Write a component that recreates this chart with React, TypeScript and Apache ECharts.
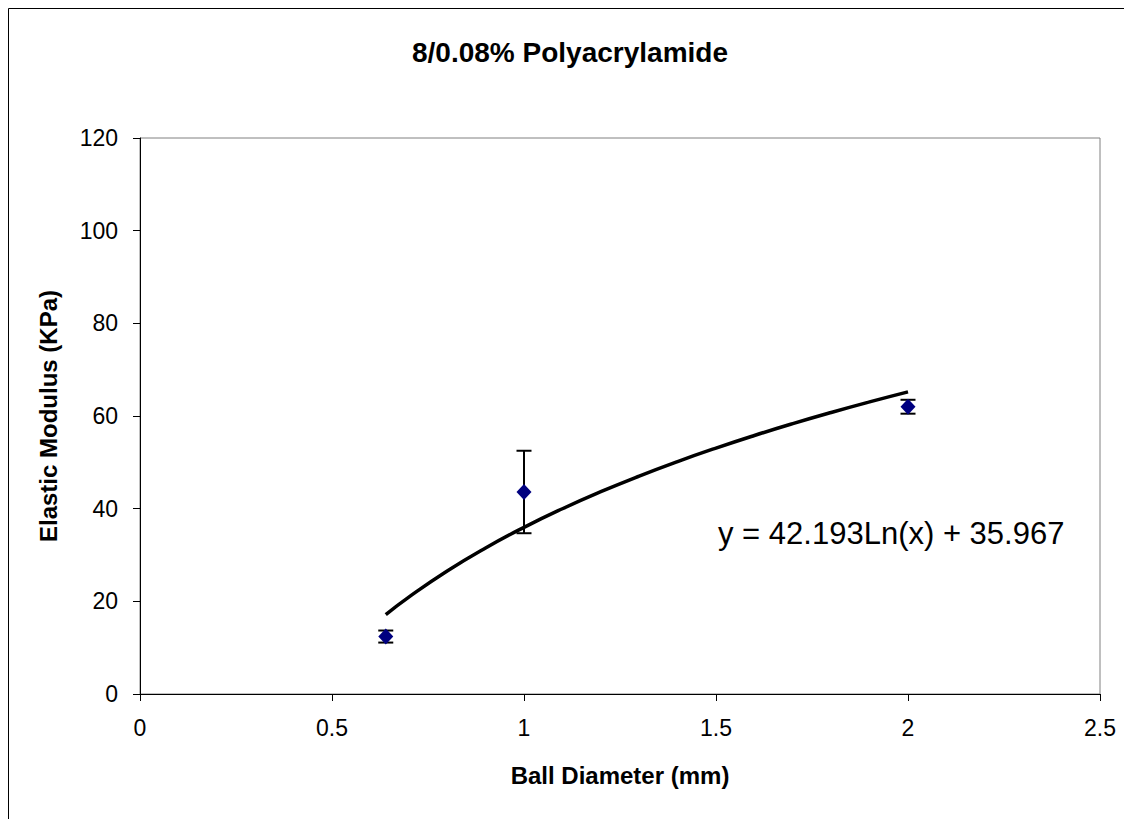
import React, { useEffect, useRef } from "react";
import * as echarts from "echarts";

// Ball diameter (mm) and measured elastic modulus (KPa)
const diameters = [0.64, 1, 2];
const modulus = [12.4, 43.6, 62.0];
const errors = [1.3, 8.9, 1.5];

// Logarithmic trend line stated on the chart: y = a·Ln(x) + b
const trendA = 42.193;
const trendB = 35.967;
const trendXs = [0.64, 0.7, 0.8, 0.9, 1, 1.1, 1.2, 1.3, 1.4, 1.5, 1.6, 1.7, 1.8, 1.9, 2];

const xTicks = [0, 0.5, 1, 1.5, 2, 2.5];
const yTicks = [0, 20, 40, 60, 80, 100, 120];

const FONT = "'Liberation Sans', Arial, sans-serif";

export default function App() {
  const ref = useRef<HTMLDivElement>(null);

  useEffect(() => {
    if (!ref.current) return;
    const chart = echarts.init(ref.current, null, { renderer: "svg" });

    const points = diameters.map((d, i) => [d, modulus[i]]);
    const bars = diameters.map((d, i) => [d, modulus[i] - errors[i], modulus[i] + errors[i]]);
    const trend = trendXs.map((x) => [x, trendA * Math.log(x) + trendB]);

    chart.setOption({
      animation: false,
      backgroundColor: "#ffffff",
      textStyle: { fontFamily: FONT },
      title: {
        text: "8/0.08% Polyacrylamide",
        left: "center",
        top: 25,
        textStyle: { fontFamily: FONT, fontSize: 28, fontWeight: "bold", color: "#000" },
      },
      graphic: [
        {
          type: "rect",
          shape: { x: 0.5, y: 0.5, width: 1300, height: 1000 },
          style: { fill: "none", stroke: "#000", lineWidth: 1 },
          silent: true,
        },
        {
          type: "text",
          left: 710,
          top: 510,
          style: {
            text: `y = ${trendA}Ln(x) + ${trendB}`,
            font: `31px ${FONT}`,
            fill: "#000",
          },
        },
      ],
      grid: {
        left: 132,
        top: 130,
        right: 32,
        bottom: 125,
        show: true,
        borderColor: "#808080",
        borderWidth: 1,
      },
      xAxis: {
        type: "value",
        min: xTicks[0],
        max: xTicks[xTicks.length - 1],
        interval: 0.5,
        name: "Ball Diameter (mm)",
        nameLocation: "middle",
        nameGap: 69,
        nameTextStyle: { fontFamily: FONT, fontSize: 24, fontWeight: "bold", color: "#000" },
        axisLine: { onZero: false, lineStyle: { color: "#000", width: 1 } },
        axisTick: { show: true, inside: false, length: 7, lineStyle: { color: "#000" } },
        axisLabel: { fontFamily: FONT, fontSize: 23, color: "#000", margin: 22 },
        splitLine: { show: false },
      },
      yAxis: {
        type: "value",
        min: yTicks[0],
        max: yTicks[yTicks.length - 1],
        interval: 20,
        name: "Elastic Modulus (KPa)",
        nameLocation: "middle",
        nameGap: 80,
        nameTextStyle: { fontFamily: FONT, fontSize: 24, fontWeight: "bold", color: "#000" },
        axisLine: { show: true, lineStyle: { color: "#000", width: 1 } },
        axisTick: { show: true, inside: false, length: 7, lineStyle: { color: "#000" } },
        axisLabel: { fontFamily: FONT, fontSize: 23, color: "#000", margin: 22 },
        splitLine: { show: false },
      },
      series: [
        {
          type: "line",
          data: trend,
          smooth: true,
          symbol: "none",
          lineStyle: { color: "#000", width: 3.5 },
          z: 2,
        },
        {
          type: "custom",
          data: bars,
          z: 3,
          renderItem: (params: any, api: any) => {
            const x = api.value(0);
            const lo = api.coord([x, api.value(1)]);
            const hi = api.coord([x, api.value(2)]);
            const half = 7.5;
            const style = { stroke: "#000", lineWidth: 2 };
            return {
              type: "group",
              children: [
                { type: "line", shape: { x1: lo[0], y1: lo[1], x2: hi[0], y2: hi[1] }, style },
                { type: "line", shape: { x1: lo[0] - half, y1: lo[1], x2: lo[0] + half, y2: lo[1] }, style },
                { type: "line", shape: { x1: hi[0] - half, y1: hi[1], x2: hi[0] + half, y2: hi[1] }, style },
              ],
            };
          },
        },
        {
          type: "scatter",
          data: points,
          symbol: "diamond",
          symbolSize: [15, 16],
          itemStyle: { color: "#000080", opacity: 1 },
          z: 4,
        },
      ],
    });

    return () => chart.dispose();
  }, []);

  return <div ref={ref} style={{ width: 1124, height: 811 }} />;
}
